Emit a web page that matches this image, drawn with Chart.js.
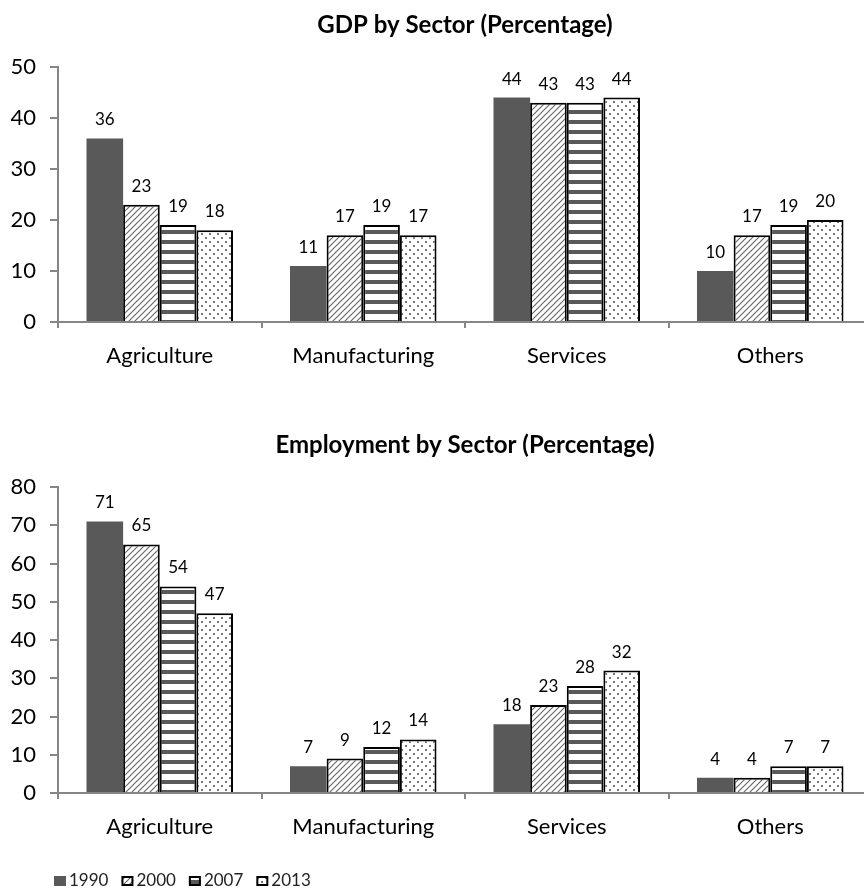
<!DOCTYPE html>
<html>
<head>
<meta charset="utf-8">
<title>GDP and Employment by Sector</title>
<script src="https://cdn.jsdelivr.net/npm/chart.js@4.4.1/dist/chart.umd.min.js"></script>
<style>
  html, body { margin: 0; padding: 0; background: #fff; overflow: hidden; }
  .panel { position: absolute; left: 0; width: 880px; }
  #gdp-panel { top: 0; height: 420px; }
  #emp-panel { top: 420px; height: 472px; }
</style>
</head>
<body>
<div class="panel" id="gdp-panel"><canvas id="gdp-chart" width="880" height="420"></canvas></div>
<div class="panel" id="emp-panel"><canvas id="emp-chart" width="880" height="472"></canvas></div>
<script>
// categories and series
const sectors = ['Agriculture', 'Manufacturing', 'Services', 'Others'];
const years = ['1990', '2000', '2007', '2013'];

// share of GDP by sector, percent
const gdp1990 = [36, 11, 44, 10];
const gdp2000 = [23, 17, 43, 17];
const gdp2007 = [19, 19, 43, 19];
const gdp2013 = [18, 17, 44, 20];

// share of employment by sector, percent
const emp1990 = [71, 7, 18, 4];
const emp2000 = [65, 9, 23, 4];
const emp2007 = [54, 12, 28, 7];
const emp2013 = [47, 14, 32, 7];

// y axis ticks
const gdpTicks = [0, 10, 20, 30, 40, 50];
const empTicks = [0, 10, 20, 30, 40, 50, 60, 70, 80];

const DARK = '#595959';
const AXIS = '#868686';
const FONT = 'Lato, "Open Sans", sans-serif';

// Fill patterns for the year series
function makePattern(ctx, w, h, draw) {
  const tile = document.createElement('canvas');
  tile.width = w;
  tile.height = h;
  const g = tile.getContext('2d');
  g.fillStyle = '#fff';
  g.fillRect(0, 0, w, h);
  draw(g);
  return ctx.createPattern(tile, 'repeat');
}

function buildFills(ctx) {
  const hatch = makePattern(ctx, 6, 6, g => {
    g.strokeStyle = '#6a6a6a';
    g.lineWidth = 1.2;
    g.beginPath();
    g.moveTo(-1, 7); g.lineTo(7, -1);
    g.moveTo(-1, 1); g.lineTo(1, -1);
    g.moveTo(5, 7); g.lineTo(7, 5);
    g.stroke();
  });
  const stripes = makePattern(ctx, 4, 10, g => {
    g.fillStyle = DARK;
    g.fillRect(0, 0, 4, 4);
  });
  const dots = makePattern(ctx, 8, 8, g => {
    g.fillStyle = '#777';
    g.fillRect(1, 1, 2, 2);
    g.fillRect(5, 5, 2, 2);
  });
  return [DARK, hatch, stripes, dots];
}

// Chart heading, centred over the plot area
const plotTitle = {
  id: 'plotTitle',
  afterDraw(chart, args, opts) {
    const { ctx, chartArea } = chart;
    ctx.save();
    ctx.font = 'bold 24px ' + FONT;
    ctx.fillStyle = '#000';
    ctx.textAlign = 'center';
    ctx.textBaseline = 'middle';
    ctx.fillText(opts.text, (chartArea.left + chartArea.right) / 2, opts.y);
    ctx.restore();
  }
};

// Numbers above each bar
const valueLabels = {
  id: 'valueLabels',
  afterDatasetsDraw(chart) {
    const ctx = chart.ctx;
    ctx.save();
    ctx.font = '17px ' + FONT;
    ctx.fillStyle = '#000';
    ctx.textAlign = 'center';
    ctx.textBaseline = 'alphabetic';
    chart.data.datasets.forEach((ds, i) => {
      chart.getDatasetMeta(i).data.forEach((bar, j) => {
        ctx.fillText(String(ds.data[j]), bar.x, bar.y - 13);
      });
    });
    ctx.restore();
  }
};

// Small legend row in the bottom-left corner
const yearLegend = {
  id: 'yearLegend',
  afterDraw(chart, args, opts) {
    if (!opts.show) return;
    const ctx = chart.ctx;
    ctx.save();
    ctx.font = '17px ' + FONT;
    ctx.textBaseline = 'middle';
    let x = opts.x;
    const y = opts.y;
    chart.data.datasets.forEach(ds => {
      ctx.fillStyle = ds.backgroundColor;
      ctx.fillRect(x, y - 5, 12, 10);
      if (ds.borderWidth) {
        ctx.strokeStyle = ds.borderColor;
        ctx.lineWidth = 2;
        ctx.strokeRect(x + 1, y - 4, 10, 8);
      }
      ctx.fillStyle = '#222';
      ctx.fillText(ds.label, x + 15, y);
      x += 15 + ctx.measureText(ds.label).width + 13;
    });
    ctx.restore();
  }
};

function makeChart(canvasId, titleText, series, ticks, legend) {
  const canvas = document.getElementById(canvasId);
  const ctx = canvas.getContext('2d');
  const fills = buildFills(ctx);

  const datasets = years.map((year, i) => ({
    label: year,
    data: series[i],
    backgroundColor: fills[i],
    borderColor: i === 0 ? DARK : '#000',
    borderWidth: i === 0 ? 0 : 2,
    barPercentage: 1,
    categoryPercentage: 0.72
  }));

  return new Chart(ctx, {
    type: 'bar',
    data: { labels: sectors, datasets: datasets },
    options: {
      responsive: false,
      animation: false,
      layout: { padding: { left: 0, right: 8, top: 67, bottom: legend ? 49 : 48 } },
      plugins: {
        legend: { display: false },
        tooltip: { enabled: false },
        title: { display: false },
        plotTitle: { text: titleText, y: 25 },
        yearLegend: { show: legend, x: 54, y: 461 }
      },
      scales: {
        x: {
          afterFit: s => { s.height = 50; },
          grid: { display: true, drawOnChartArea: false, drawTicks: true, tickLength: 6, color: AXIS, lineWidth: 2, offset: true },
          border: { display: true, color: AXIS, width: 2 },
          ticks: { color: '#000', font: { family: FONT, size: 22 }, padding: 15 }
        },
        y: {
          min: ticks[0],
          max: ticks[ticks.length - 1],
          afterFit: s => { s.width = 58; },
          afterBuildTicks: s => { s.ticks = ticks.map(v => ({ value: v })); },
          grid: { display: true, drawOnChartArea: false, drawTicks: true, tickLength: 8, color: AXIS, lineWidth: 2 },
          border: { display: true, color: AXIS, width: 2 },
          ticks: { color: '#000', font: { family: FONT, size: 22 }, padding: 14 }
        }
      }
    },
    plugins: [plotTitle, valueLabels, yearLegend]
  });
}

makeChart('gdp-chart', 'GDP by Sector (Percentage)', [gdp1990, gdp2000, gdp2007, gdp2013], gdpTicks, false);
makeChart('emp-chart', 'Employment by Sector (Percentage)', [emp1990, emp2000, emp2007, emp2013], empTicks, true);
</script>
</body>
</html>
